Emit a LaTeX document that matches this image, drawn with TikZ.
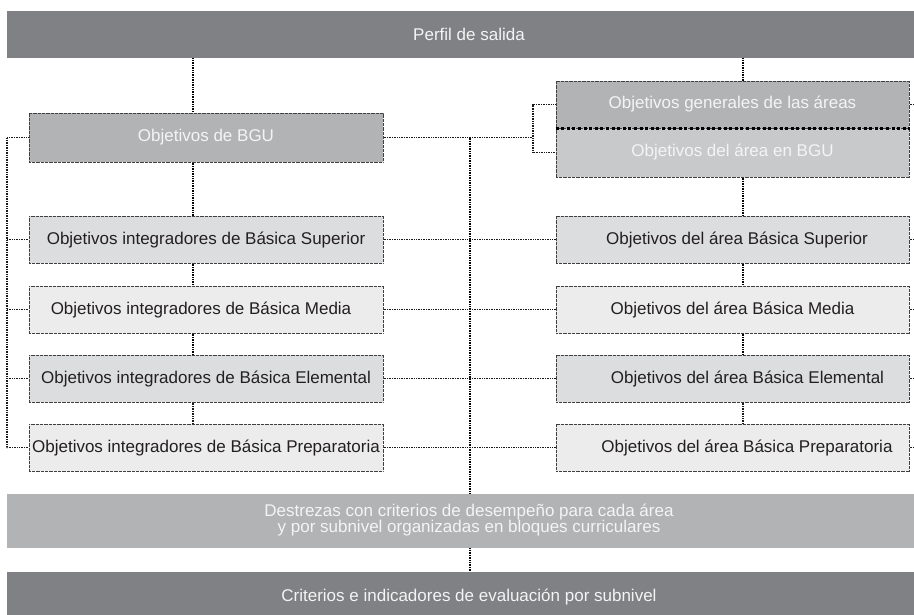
\documentclass[tikz,border=0pt]{standalone}
\usepackage{fontspec}
\setmainfont{Liberation Sans}
\definecolor{bardark}{HTML}{808184}
\definecolor{barmid}{HTML}{B1B3B5}
\definecolor{boxbgu}{HTML}{C8C9CB}
\definecolor{boxa}{HTML}{DCDDDF}
\definecolor{boxb}{HTML}{ECECED}
\definecolor{txtlight}{HTML}{F4F4F4}
\definecolor{txtdark}{HTML}{231F20}
\tikzset{
  every node/.style={font=\fontsize{17}{16}\selectfont, inner sep=0pt},
  wide/.style={minimum width=907pt, align=center, text=txtlight},
  lbox/.style={minimum width=354pt, minimum height=47pt, draw=black!75, line width=1pt, dash pattern=on 0.8pt off 0.5pt, text=txtdark},
  rbox/.style={minimum width=353pt, minimum height=47pt, draw=black!75, line width=1pt, dash pattern=on 0.8pt off 0.5pt, text=txtdark},
  conn/.style={draw=black, line width=2pt, dash pattern=on 1pt off 0.7pt},
  thinconn/.style={draw=black!90, line width=1.5pt, dash pattern=on 1pt off 0.7pt},
  sepline/.style={draw=black, line width=3pt, dash pattern=on 3pt off 2.6pt},
}
\begin{document}
\begin{tikzpicture}[x=1pt,y=-1pt]
\useasboundingbox (0,0) rectangle (914,614);
% bars
\node[wide, fill=bardark, minimum height=47pt] (top) at (460.5,34.5) {\hspace*{17pt}Perfil de salida};
\node[wide, fill=barmid, minimum height=54pt] (des) at (460.5,521) {\hspace*{17pt}\begin{tabular}{@{}c@{}}Destrezas con criterios de desempeño para cada área\\[-1pt] y por subnivel organizadas en bloques curriculares\end{tabular}};
\node[wide, fill=bardark, minimum height=50pt] (cri) at (460.5,597) {\hspace*{17pt}Criterios e indicadores de evaluación por subnivel};
% left column
\node[lbox, fill=barmid, minimum height=49pt, text=txtlight] (bgu) at (206,137.5) {Objetivos de BGU};
\node[lbox, fill=boxa] (lsup) at (206,239.5) {Objetivos integradores de Básica Superior};
\node[lbox, fill=boxb] (lmed) at (206,309.5) {Objetivos integradores de Básica Media\hspace*{10pt}};
\node[lbox, fill=boxa] (lele) at (206,378.5) {Objetivos integradores de Básica Elemental};
\node[lbox, fill=boxb] (lpre) at (206,447.5) {Objetivos integradores de Básica Preparatoria};
% right column
\node[rbox, fill=barmid, text=txtlight] (gen) at (732.5,104.5) {Objetivos generales de las áreas};
\node[rbox, fill=boxbgu, minimum height=49pt, text=txtlight] (abgu) at (732.5,152.5) {Objetivos del área en BGU};
\node[rbox, fill=boxa] (rsup) at (732.5,239.5) {\hspace*{9pt}Objetivos del área Básica Superior};
\node[rbox, fill=boxb] (rmed) at (732.5,309.5) {Objetivos del área Básica Media};
\node[rbox, fill=boxa] (rele) at (732.5,378.5) {\hspace*{30pt}Objetivos del área Básica Elemental};
\node[rbox, fill=boxb] (rpre) at (732.5,447.5) {\hspace*{29pt}Objetivos del área Básica Preparatoria};
\draw[sepline] (gen.south west) -- (gen.south east);
% guide coordinates
\coordinate (lx) at (193,0);
\coordinate (rx) at (743,0);
\coordinate (lb) at (7,0);
\coordinate (jx) at (533,0);
\coordinate (mx) at (470,0);
\coordinate (rb) at (914,0);
% vertical trunks
\draw[conn] (top.south -| lx) -- (bgu.north -| lx);
\draw[conn] (bgu.south -| lx) -- (lsup.north -| lx);
\draw[conn] (lsup.south -| lx) -- (lmed.north -| lx);
\draw[conn] (lmed.south -| lx) -- (lele.north -| lx);
\draw[thinconn] (lele.south -| lx) -- (lpre.north -| lx);
\draw[conn] (top.south -| rx) -- (gen.north -| rx);
\draw[conn] (abgu.south -| rx) -- (rsup.north -| rx);
\draw[conn] (rsup.south -| rx) -- (rmed.north -| rx);
\draw[conn] (rmed.south -| rx) -- (rele.north -| rx);
\draw[thinconn] (rele.south -| rx) -- (rpre.north -| rx);
% left bus
\draw[thinconn] (bgu.west) -- (bgu.west -| lb) -- (lpre.west -| lb) -- (lpre.west);
\draw[thinconn] (lsup.west -| lb) -- (lsup.west);
\draw[thinconn] (lmed.west -| lb) -- (lmed.west);
\draw[thinconn] (lele.west -| lb) -- (lele.west);
% link to right column top
\draw[thinconn] (bgu.east) -- (bgu.east -| jx);
\draw[thinconn] (gen.west) -- (gen.west -| jx) -- (abgu.west -| jx) -- (abgu.west);
% middle bus
\draw[conn] (bgu.east -| mx) -- (des.north -| mx);
\draw[conn] (des.south -| mx) -- (cri.north -| mx);
% horizontal rows
\draw[thinconn] (lsup.east) -- (rsup.west);
\draw[thinconn] (lmed.east) -- (rmed.west);
\draw[thinconn] (lele.east) -- (rele.west);
\draw[thinconn] (lpre.east) -- (rpre.west);
% right stubs
\draw[thinconn] (gen.east) -- (gen.east -| rb);
\draw[thinconn] (rsup.east) -- (rsup.east -| rb);
\draw[thinconn] (rmed.east) -- (rmed.east -| rb);
\draw[thinconn] (rele.east) -- (rele.east -| rb);
\draw[thinconn] (rpre.east) -- (rpre.east -| rb);
\end{tikzpicture}
\end{document}
